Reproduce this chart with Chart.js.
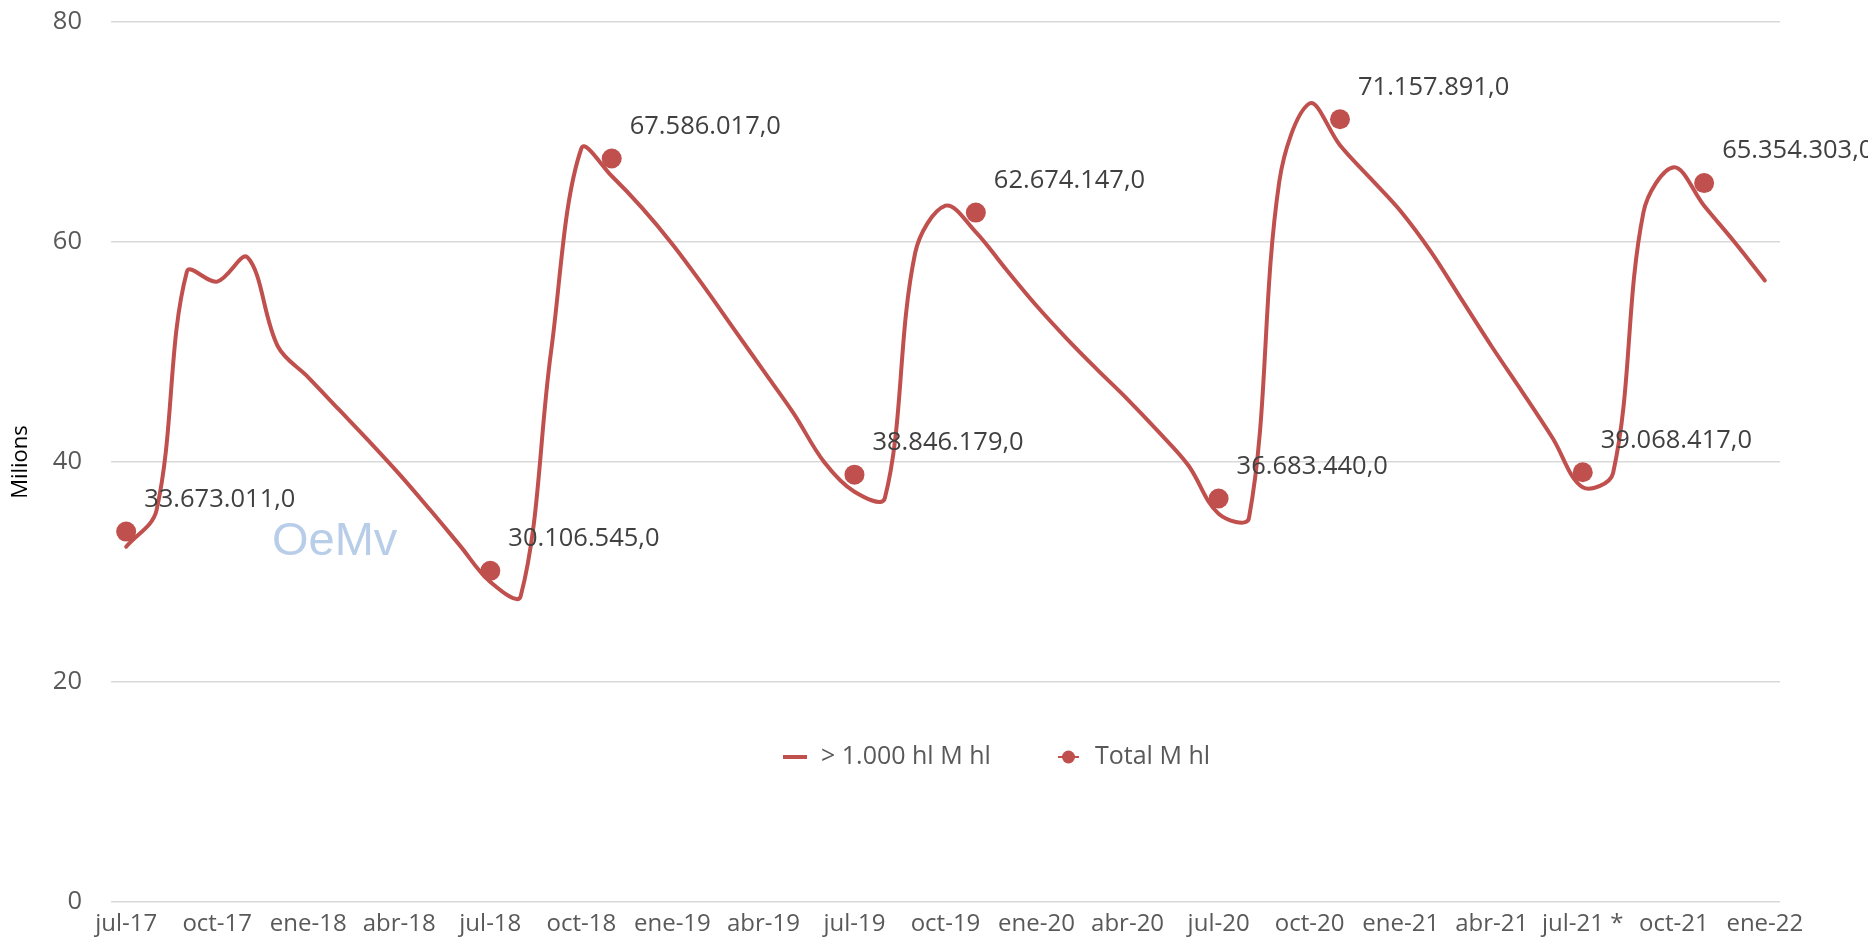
<!DOCTYPE html>
<html><head><meta charset="utf-8">
<script src="https://cdn.jsdelivr.net/npm/chart.js@4.4.1/dist/chart.umd.min.js"></script>
<style>html,body{margin:0;padding:0;background:#fff;}#wrap{width:1868px;height:938px;position:relative;overflow:hidden}</style>
</head><body><div id="wrap"><canvas id="c" width="1868" height="938"></canvas></div>
<script>
// Monthly categories (jul-17 .. ene-22)
const months = [
  'jul-17','ago-17','sep-17','oct-17','nov-17','dic-17',
  'ene-18','feb-18','mar-18','abr-18','may-18','jun-18','jul-18','ago-18','sep-18','oct-18','nov-18','dic-18',
  'ene-19','feb-19','mar-19','abr-19','may-19','jun-19','jul-19','ago-19','sep-19','oct-19','nov-19','dic-19',
  'ene-20','feb-20','mar-20','abr-20','may-20','jun-20','jul-20','ago-20','sep-20','oct-20','nov-20','dic-20',
  'ene-21','feb-21','mar-21','abr-21','may-21','jun-21','jul-21 *','ago-21','sep-21','oct-21','nov-21','dic-21',
  'ene-22'
];
// Series "> 1.000 hl M hl" (millions of hl)
const largeStocks = [
  32.3, 35.6, 57.3, 56.4, 58.6, 50.5,
  47.7, 44.8, 41.9, 38.9, 35.7, 32.4, 29.1, 27.8, 50.0, 68.5, 66.0, 63.1,
  59.8, 56.1, 52.2, 48.3, 44.4, 40.0, 37.3, 36.7, 59.0, 63.3, 60.9, 57.5,
  54.2, 51.2, 48.4, 45.7, 42.8, 39.7, 35.3, 34.9, 65.5, 72.6, 68.8, 65.8,
  62.8, 59.1, 54.8, 50.5, 46.4, 42.2, 37.7, 39.0, 62.7, 66.8, 63.3, 60.0,
  56.5
];
// Series "Total M hl" (hl)
const totalMonths = ['jul-17','jul-18','nov-18','jul-19','nov-19','jul-20','nov-20','jul-21 *','nov-21'];
const totalHl = [33673011, 30106545, 67586017, 38846179, 62674147, 36683440, 71157891, 39068417, 65354303];
// Axis
const yMin = 0, yMax = 80, yStep = 20;
const tickEvery = 3;
const seriesNames = ['> 1.000 hl M hl', 'Total M hl'];
const yTitle = 'Milions';
const watermark = 'OeMv';

const RED = '#c0504d';
const FONT = '"Open Sans", "DejaVu Sans", sans-serif';

function fmtEs(v) {
  const s = Math.round(v).toString();
  return s.replace(/\B(?=(\d{3})+(?!\d))/g, '.') + ',0';
}

const totalData = months.map(m => {
  const k = totalMonths.indexOf(m);
  return k < 0 ? null : totalHl[k] / 1e6;
});

const overlay = {
  id: 'overlay',
  beforeDatasetsDraw(chart) {
    const ctx = chart.ctx;
    ctx.save();
    ctx.font = '47px "Liberation Sans", Arial, sans-serif';
    ctx.fillStyle = '#b7cde8';
    ctx.textBaseline = 'alphabetic';
    ctx.textAlign = 'left';
    ctx.fillText(watermark, 272, 555);
    ctx.restore();
  },
  afterDatasetsDraw(chart) {
    const ctx = chart.ctx;
    ctx.save();
    // data labels of Total series
    const meta = chart.getDatasetMeta(1);
    ctx.font = '25.5px ' + FONT;
    ctx.fillStyle = '#404040';
    ctx.textAlign = 'left';
    ctx.textBaseline = 'middle';
    meta.data.forEach((pt, i) => {
      const v = chart.data.datasets[1].data[i];
      if (v === null || v === undefined) return;
      const raw = totalHl[totalMonths.indexOf(months[i])];
      ctx.fillText(fmtEs(raw), pt.x + 18, pt.y - 32);
    });
    // legend
    const ly = 757;
    ctx.strokeStyle = RED;
    ctx.lineWidth = 4;
    ctx.beginPath(); ctx.moveTo(783, ly); ctx.lineTo(807, ly); ctx.stroke();
    ctx.fillStyle = '#595959';
    ctx.font = '25px ' + FONT;
    ctx.fillText(seriesNames[0], 821, ly);
    ctx.lineWidth = 2;
    ctx.beginPath(); ctx.moveTo(1058, ly); ctx.lineTo(1079, ly); ctx.stroke();
    ctx.fillStyle = RED;
    ctx.beginPath(); ctx.arc(1068.5, ly, 6.5, 0, Math.PI * 2); ctx.fill();
    ctx.fillStyle = '#595959';
    ctx.fillText(seriesNames[1], 1095, ly);
    ctx.restore();
  }
};

new Chart(document.getElementById('c'), {
  type: 'line',
  data: {
    labels: months,
    datasets: [
      {
        label: seriesNames[0],
        data: largeStocks,
        borderColor: RED,
        backgroundColor: RED,
        borderWidth: 4,
        pointRadius: 0,
        tension: 0.35,
        fill: false,
        borderCapStyle: 'round',
        borderJoinStyle: 'round',
        order: 1
      },
      {
        label: seriesNames[1],
        data: totalData,
        showLine: false,
        pointRadius: 10,
        pointBackgroundColor: RED,
        pointBorderWidth: 0,
        borderColor: RED,
        order: 0
      }
    ]
  },
  options: {
    responsive: false,
    animation: false,
    devicePixelRatio: 1,
    layout: { padding: { top: 22, right: 88, bottom: 0, left: 0 }, autoPadding: false },
    plugins: { legend: { display: false }, tooltip: { enabled: false } },
    scales: {
      x: {
        type: 'category',
        offset: true,
        grid: { display: false, drawTicks: false },
        border: { display: false },
        ticks: {
          autoSkip: false, maxRotation: 0, minRotation: 0, padding: 8,
          color: '#595959', font: { family: FONT, size: 24 },
          callback: (v, i) => (i % tickEvery === 0 ? months[i] : '')
        },
        afterFit: s => { s.height = 36; s.paddingLeft = 0; s.paddingRight = 0; }
      },
      y: {
        min: yMin, max: yMax,
        grid: { color: '#d9d9d9', lineWidth: 1.5, drawTicks: false },
        border: { display: false },
        ticks: { stepSize: yStep, padding: 29, color: '#595959', font: { family: FONT, size: 25.5 } },
        title: { display: true, text: yTitle, color: '#000000', font: { family: FONT, size: 22 }, padding: { top: 8, bottom: 0 } },
        afterFit: s => { s.width = 111; s.paddingTop = 0; s.paddingBottom = 0; }
      }
    }
  },
  plugins: [overlay]
});
</script></body></html>
